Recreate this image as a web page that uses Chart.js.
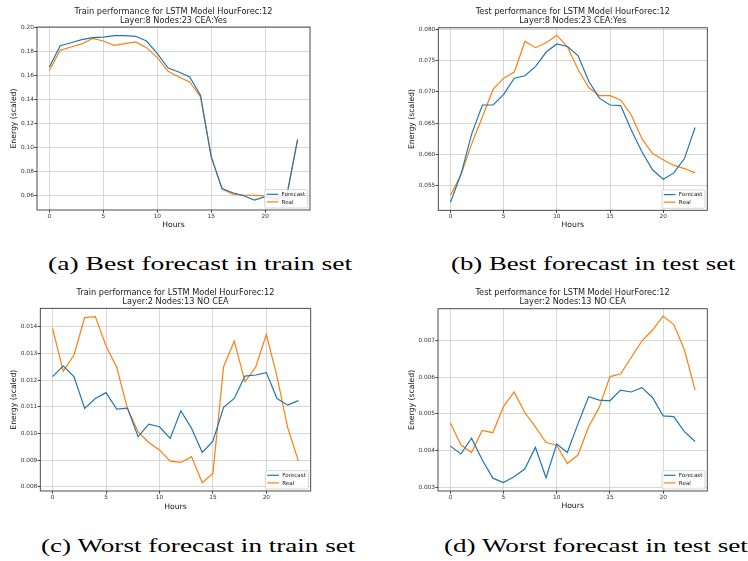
<!DOCTYPE html>
<html>
<head>
<meta charset="utf-8">
<script src="https://cdn.jsdelivr.net/npm/chart.js@4.4.1/dist/chart.umd.min.js"></script>
<style>
  html, body { margin: 0; padding: 0; background: #fff; }
  body { width: 748px; height: 561px; position: relative; overflow: hidden; }
  .panel { position: absolute; width: 374px; height: 240px; }
  .cap { position: absolute; font-family: 'Liberation Serif', serif; font-size: 19px; line-height: 19px;
         white-space: nowrap; transform-origin: 0 0; color: #000; }
</style>
</head>
<body>
<div class="panel" style="left:0px;top:0px"><canvas id="chartA"></canvas></div>
<div class="panel" style="left:374px;top:0px"><canvas id="chartB"></canvas></div>
<div class="panel" style="left:0px;top:280px"><canvas id="chartC"></canvas></div>
<div class="panel" style="left:374px;top:280px"><canvas id="chartD"></canvas></div>

<div class="cap" id="capA" style="left:48.3px;top:254px">(a) Best forecast in train set</div>
<div class="cap" id="capB" style="left:451.3px;top:254px">(b) Best forecast in test set</div>
<div class="cap" id="capC" style="left:41px;top:536px">(c) Worst forecast in train set</div>
<div class="cap" id="capD" style="left:444px;top:536px">(d) Worst forecast in test set</div>

<script>
// hours on the x axis
const hours = [0, 1, 2, 3, 4, 5, 6, 7, 8, 9, 10, 11, 12, 13, 14, 15, 16, 17, 18, 19, 20, 21, 22, 23];
const xTicks = [0, 5, 10, 15, 20];

// (a) best forecast, train set
const trainBestForecast = [0.1669, 0.1845, 0.1870, 0.1895, 0.1912, 0.1917, 0.1928, 0.1928, 0.1923, 0.1884,
  0.1780, 0.1660, 0.1627, 0.1586, 0.1434, 0.0923, 0.0660, 0.0625, 0.0600, 0.0564, 0.0592, 0.0570, 0.0600, 0.1067];
const trainBestReal = [0.1640, 0.1807, 0.1834, 0.1860, 0.1906, 0.1884, 0.1848, 0.1862, 0.1876, 0.1829,
  0.1746, 0.1633, 0.1586, 0.1544, 0.1420, 0.0923, 0.0655, 0.0614, 0.0605, 0.0603, 0.0600, 0.0590, 0.0605, 0.1067];
const yTicksA = [0.06, 0.08, 0.10, 0.12, 0.14, 0.16, 0.18, 0.20];

// (b) best forecast, test set
const testBestForecast = [0.0523, 0.0569, 0.0633, 0.0679, 0.0679, 0.0696, 0.0722, 0.0726, 0.0741, 0.0764,
  0.0777, 0.0773, 0.0758, 0.0717, 0.0690, 0.0679, 0.0678, 0.0639, 0.0604, 0.0575, 0.0560, 0.0570, 0.0593, 0.0643];
const testBestReal = [0.0534, 0.0568, 0.0617, 0.0660, 0.0704, 0.0722, 0.0732, 0.0781, 0.0771, 0.0779,
  0.0791, 0.0772, 0.0736, 0.0707, 0.0694, 0.0694, 0.0687, 0.0663, 0.0625, 0.0601, 0.0591, 0.0582, 0.0577, 0.0570];
const yTicksB = [0.055, 0.060, 0.065, 0.070, 0.075, 0.080];

// (c) worst forecast, train set
const trainWorstForecast = [0.01213, 0.01253, 0.01213, 0.01094, 0.01131, 0.01153, 0.01091, 0.01095, 0.00988, 0.01035,
  0.01025, 0.00981, 0.01085, 0.01019, 0.00929, 0.00971, 0.01098, 0.01131, 0.01215, 0.01219, 0.01228, 0.01131, 0.01106, 0.01123];
const trainWorstReal = [0.01394, 0.01233, 0.01294, 0.01434, 0.01438, 0.01328, 0.01248, 0.01094, 0.01006, 0.00966,
  0.00938, 0.00896, 0.00891, 0.00913, 0.00815, 0.00850, 0.01250, 0.01346, 0.01194, 0.01248, 0.01371, 0.01213, 0.01021, 0.00896];
const yTicksC = [0.008, 0.009, 0.010, 0.011, 0.012, 0.013, 0.014];

// (d) worst forecast, test set
const testWorstForecast = [0.00413, 0.00391, 0.00434, 0.00375, 0.00325, 0.00313, 0.00329, 0.00350, 0.00409, 0.00326,
  0.00418, 0.00395, 0.00473, 0.00547, 0.00538, 0.00536, 0.00565, 0.00560, 0.00572, 0.00545, 0.00495, 0.00493, 0.00452, 0.00425];
const testWorstReal = [0.00476, 0.00416, 0.00395, 0.00455, 0.00449, 0.00520, 0.00560, 0.00504, 0.00465, 0.00422,
  0.00415, 0.00365, 0.00388, 0.00465, 0.00518, 0.00602, 0.00609, 0.00654, 0.00699, 0.00729, 0.00767, 0.00744, 0.00675, 0.00565];
const yTicksD = [0.003, 0.004, 0.005, 0.006, 0.007];

const blue = '#1f77b4';
const orange = '#ff7f0e';
const FONT = "'DejaVu Sans', sans-serif";

// frame on all four sides plus the legend box in the lower right
const framePlugin = {
    id: 'frameAndLegend',
    afterDatasetsDraw(chart) {
        const ctx = chart.ctx;
        const a = chart.chartArea;
        ctx.save();
        ctx.strokeStyle = '#3a3a3a';
        ctx.lineWidth = 0.9;
        ctx.strokeRect(a.left, a.top, a.right - a.left, a.bottom - a.top);

        // legend
        const w = 43, h = 18.3;
        const x = a.right - 2.3 - w, y = a.bottom - 2 - h;
        ctx.fillStyle = 'rgba(255,255,255,0.85)';
        ctx.strokeStyle = '#cccccc';
        ctx.lineWidth = 0.8;
        ctx.beginPath();
        ctx.roundRect(x, y, w, h, 1.5);
        ctx.fill();
        ctx.stroke();
        ctx.font = '5.6px ' + FONT;
        ctx.textBaseline = 'middle';
        chart.data.datasets.forEach(function(ds, i) {
            const ry = y + 4.6 + i * 7.6;
            ctx.strokeStyle = ds.borderColor;
            ctx.lineWidth = 1.2;
            ctx.beginPath();
            ctx.moveTo(x + 1.8, ry);
            ctx.lineTo(x + 13.5, ry);
            ctx.stroke();
            ctx.fillStyle = '#222';
            ctx.fillText(ds.label, x + 16.8, ry + 0.3);
        });
        ctx.restore();
    }
};

function makeChart(id, p) {
    const pts = arr => hours.map((hr, i) => ({ x: hr, y: arr[i] }));
    return new Chart(document.getElementById(id), {
        type: 'line',
        data: {
            datasets: [{
                label: 'Forecast',
                data: pts(p.forecast),
                borderColor: blue,
                borderWidth: 1.2,
                pointRadius: 0,
                tension: 0
            }, {
                label: 'Real',
                data: pts(p.real),
                borderColor: orange,
                borderWidth: 1.2,
                pointRadius: 0,
                tension: 0
            }]
        },
        options: {
            responsive: true,
            maintainAspectRatio: false,
            animation: false,
            events: [],
            layout: {
                padding: { left: 0, top: 0, right: 374 - p.R, bottom: 240 - p.B - 24 }
            },
            plugins: {
                legend: { display: false },
                tooltip: { enabled: false },
                title: {
                    display: true,
                    fullSize: false,
                    text: p.title,
                    color: '#1a1a1a',
                    font: { family: FONT, size: 8.2, weight: 'normal', lineHeight: 1.1 },
                    padding: { top: p.titleTop - 4.5, bottom: p.T - (p.titleTop - 4.5) - 18 }
                }
            },
            scales: {
                x: {
                    type: 'linear',
                    min: -1.15,
                    max: 24.15,
                    afterBuildTicks: s => { s.ticks = xTicks.map(v => ({ value: v })); },
                    afterFit: s => { s.height = 24; },
                    ticks: {
                        font: { family: FONT, size: 5.8 },
                        color: '#333',
                        padding: 0.5,
                        maxRotation: 0,
                        callback: v => String(v)
                    },
                    grid: { color: '#d2d2d2', lineWidth: 0.9, tickLength: 2.7, tickColor: '#333', drawTicks: true },
                    border: { display: false },
                    title: {
                        display: true,
                        text: 'Hours',
                        color: '#111',
                        font: { family: FONT, size: 7.7, lineHeight: 1.2 },
                        padding: { top: 0, bottom: (p.B + 24 - p.hoursY) - 4.62 }
                    }
                },
                y: {
                    type: 'linear',
                    min: p.yMin,
                    max: p.yMax,
                    afterBuildTicks: s => { s.ticks = p.yTicks.map(v => ({ value: v })); },
                    afterFit: s => { s.width = p.L; },
                    ticks: {
                        font: { family: FONT, size: 5.8 },
                        color: '#333',
                        padding: 0.3,
                        callback: v => v.toFixed(p.dec)
                    },
                    grid: { color: '#d2d2d2', lineWidth: 0.9, tickLength: 2.7, tickColor: '#333', drawTicks: true },
                    border: { display: false },
                    title: {
                        display: true,
                        text: 'Energy (scaled)',
                        color: '#111',
                        font: { family: FONT, size: 7.7, lineHeight: 1.2 },
                        padding: { top: p.ylabelX - 4.62, bottom: 0 }
                    }
                }
            }
        },
        plugins: [framePlugin]
    });
}

makeChart('chartA', {
    forecast: trainBestForecast, real: trainBestReal,
    yMin: 0.0482, yMax: 0.2, yTicks: yTicksA, dec: 2,
    title: ['Train performance for LSTM Model HourForec:12', 'Layer:8 Nodes:23 CEA:Yes'],
    L: 37, R: 310, T: 27, B: 210, titleTop: 11.7, ylabelX: 14, hoursY: 225.3
});
makeChart('chartB', {
    forecast: testBestForecast, real: testBestReal,
    yMin: 0.0510, yMax: 0.0803, yTicks: yTicksB, dec: 3,
    title: ['Test performance for LSTM Model HourForec:12', 'Layer:8 Nodes:23 CEA:Yes'],
    L: 64.3, R: 333.3, T: 27.7, B: 210.3, titleTop: 11.7, ylabelX: 38.3, hoursY: 225.3
});
makeChart('chartC', {
    forecast: trainWorstForecast, real: trainWorstReal,
    yMin: 0.00784, yMax: 0.01469, yTicks: yTicksC, dec: 3,
    title: ['Train performance for LSTM Model HourForec:12', 'Layer:2 Nodes:13 NO CEA'],
    L: 40.3, R: 310.7, T: 28.3, B: 211, titleTop: 12.7, ylabelX: 14, hoursY: 226.7
});
makeChart('chartD', {
    forecast: testWorstForecast, real: testWorstReal,
    yMin: 0.0029, yMax: 0.00787, yTicks: yTicksD, dec: 3,
    title: ['Test performance for LSTM Model HourForec:12', 'Layer:2 Nodes:13 NO CEA'],
    L: 64, R: 333.3, T: 28.7, B: 211, titleTop: 12.7, ylabelX: 38.3, hoursY: 226.3
});

// stretch captions to the widths seen in the figure
function fitCaption(id, width, scale) {
    const el = document.getElementById(id);
    const s = scale || width / el.offsetWidth;
    el.style.transform = 'scaleX(' + s + ')';
    return s;
}
fitCaption('capA', 303.4);
fitCaption('capB', 284.4);
const sC = fitCaption('capC', 314);
fitCaption('capD', 0, sC);
</script>
</body>
</html>
